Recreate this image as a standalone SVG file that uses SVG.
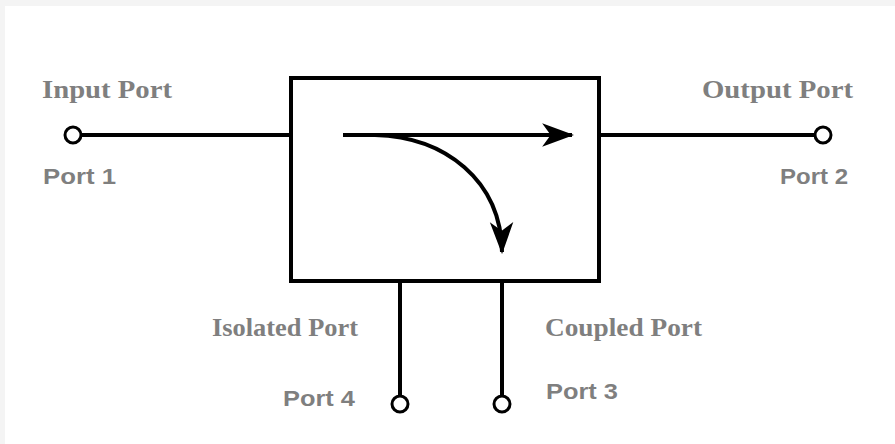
<svg xmlns="http://www.w3.org/2000/svg" width="895" height="444" viewBox="0 0 895 444">
<style>
.line{stroke:#000;stroke-width:4;fill:none}
.port{stroke:#000;stroke-width:3;fill:#fff}
.ser{font-family:"Liberation Serif","Times New Roman",serif;font-weight:bold;font-size:26px;fill:#7f7f7f}
.san{font-family:"Liberation Sans",Arial,sans-serif;font-weight:bold;font-size:22px;fill:#7f7f7f}
</style>
<defs>
<marker id="ah" viewBox="0 0 30 24" refX="28" refY="12" markerWidth="32" markerHeight="26" markerUnits="userSpaceOnUse" orient="auto">
<path d="M0,1 L30,12 L0,23 L8,12 Z" fill="#000"/>
</marker>
</defs>
<rect width="895" height="444" fill="#f4f4f4"/>
<rect x="5" y="6" width="890" height="438" fill="#fff"/>
<g id="connectors">
<line class="line" x1="81" y1="135" x2="291" y2="135"/>
<line class="line" x1="599" y1="135" x2="815" y2="135"/>
<line class="line" x1="400" y1="281" x2="400" y2="396"/>
<line class="line" x1="502" y1="281" x2="502" y2="396"/>
<line class="line" x1="343" y1="135" x2="572" y2="135" marker-end="url(#ah)"/>
<path class="line" d="M375,135 C445,137 501,180 502,252" marker-end="url(#ah)"/>
</g>
<g id="coupler"><rect class="line" x="291" y="78" width="308" height="203"/></g>
<g id="port1">
<circle class="port" cx="73" cy="135" r="8"/>
<text class="ser" x="42" y="98" textLength="130" lengthAdjust="spacingAndGlyphs">Input Port</text>
<text class="san" x="43" y="184" textLength="73" lengthAdjust="spacingAndGlyphs">Port 1</text>
</g>
<g id="port2">
<circle class="port" cx="823" cy="135" r="8"/>
<text class="ser" x="702" y="98" textLength="151" lengthAdjust="spacingAndGlyphs">Output Port</text>
<text class="san" x="780" y="184" textLength="68" lengthAdjust="spacingAndGlyphs">Port 2</text>
</g>
<g id="port4">
<circle class="port" cx="400" cy="404" r="8"/>
<text class="ser" x="212" y="336" textLength="146" lengthAdjust="spacingAndGlyphs">Isolated Port</text>
<text class="san" x="283" y="406" textLength="72" lengthAdjust="spacingAndGlyphs">Port 4</text>
</g>
<g id="port3">
<circle class="port" cx="502" cy="404" r="8"/>
<text class="ser" x="545" y="336" textLength="157" lengthAdjust="spacingAndGlyphs">Coupled Port</text>
<text class="san" x="546" y="399" textLength="72" lengthAdjust="spacingAndGlyphs">Port 3</text>
</g>
</svg>
